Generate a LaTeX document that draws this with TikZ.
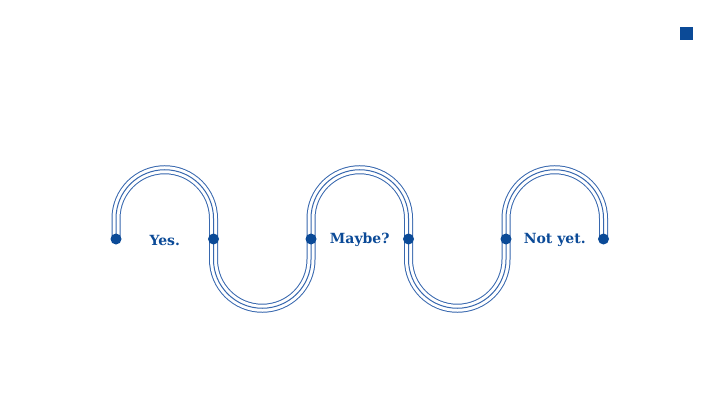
\documentclass[tikz,border=0pt]{standalone}
\usepackage{fontspec}
\setmainfont{DejaVu Serif}
\usetikzlibrary{positioning, calc}
\definecolor{navy}{HTML}{0B4A97}
\definecolor{trackblue}{HTML}{3767AE}

\begin{document}
\begin{tikzpicture}[
  x=1pt, y=1pt,
  dot/.style={circle, fill=navy, inner sep=0pt, minimum size=11pt},
  word/.style={text=navy, font=\bfseries\fontsize{14}{16}\selectfont, inner sep=0pt},
  trackout/.style={draw=trackblue, line width=9pt},
  trackin/.style={draw=white, line width=7pt},
  trackmid/.style={draw=trackblue, line width=1pt},
]
\useasboundingbox (0,0) rectangle (720,405);

% end points of the track
\foreach \i in {0,...,5}
  \coordinate (p\i) at (116+97.5*\i,166);

% the wavy track, drawn three times
\foreach \s in {trackout, trackin, trackmid}
  \path[\s] (p0) -- ++(0,20.5)
    arc[start angle=180, end angle=0, radius=48.75] -- ++(0,-41)
    arc[start angle=180, end angle=360, radius=48.75] -- ++(0,41)
    arc[start angle=180, end angle=0, radius=48.75] -- ++(0,-41)
    arc[start angle=180, end angle=360, radius=48.75] -- ++(0,41)
    arc[start angle=180, end angle=0, radius=48.75] -- (p5);

\foreach \i in {0,...,5}
  \node[dot] (d\i) at (p\i) {};

\node[word] (yes) at ($(d0)!0.5!(d1)+(0,-1)$) {Yes.};
\node[word] (maybe) at ($(d2)!0.5!(d3)+(0,-1)$) {Maybe?};
\node[word] (notyet) at ($(d4)!0.5!(d5)+(0,-1)$) {Not yet.};

\node[fill=navy, inner sep=0pt, minimum size=13pt] (mark) at (686.5,371) {};

\end{tikzpicture}
\end{document}
